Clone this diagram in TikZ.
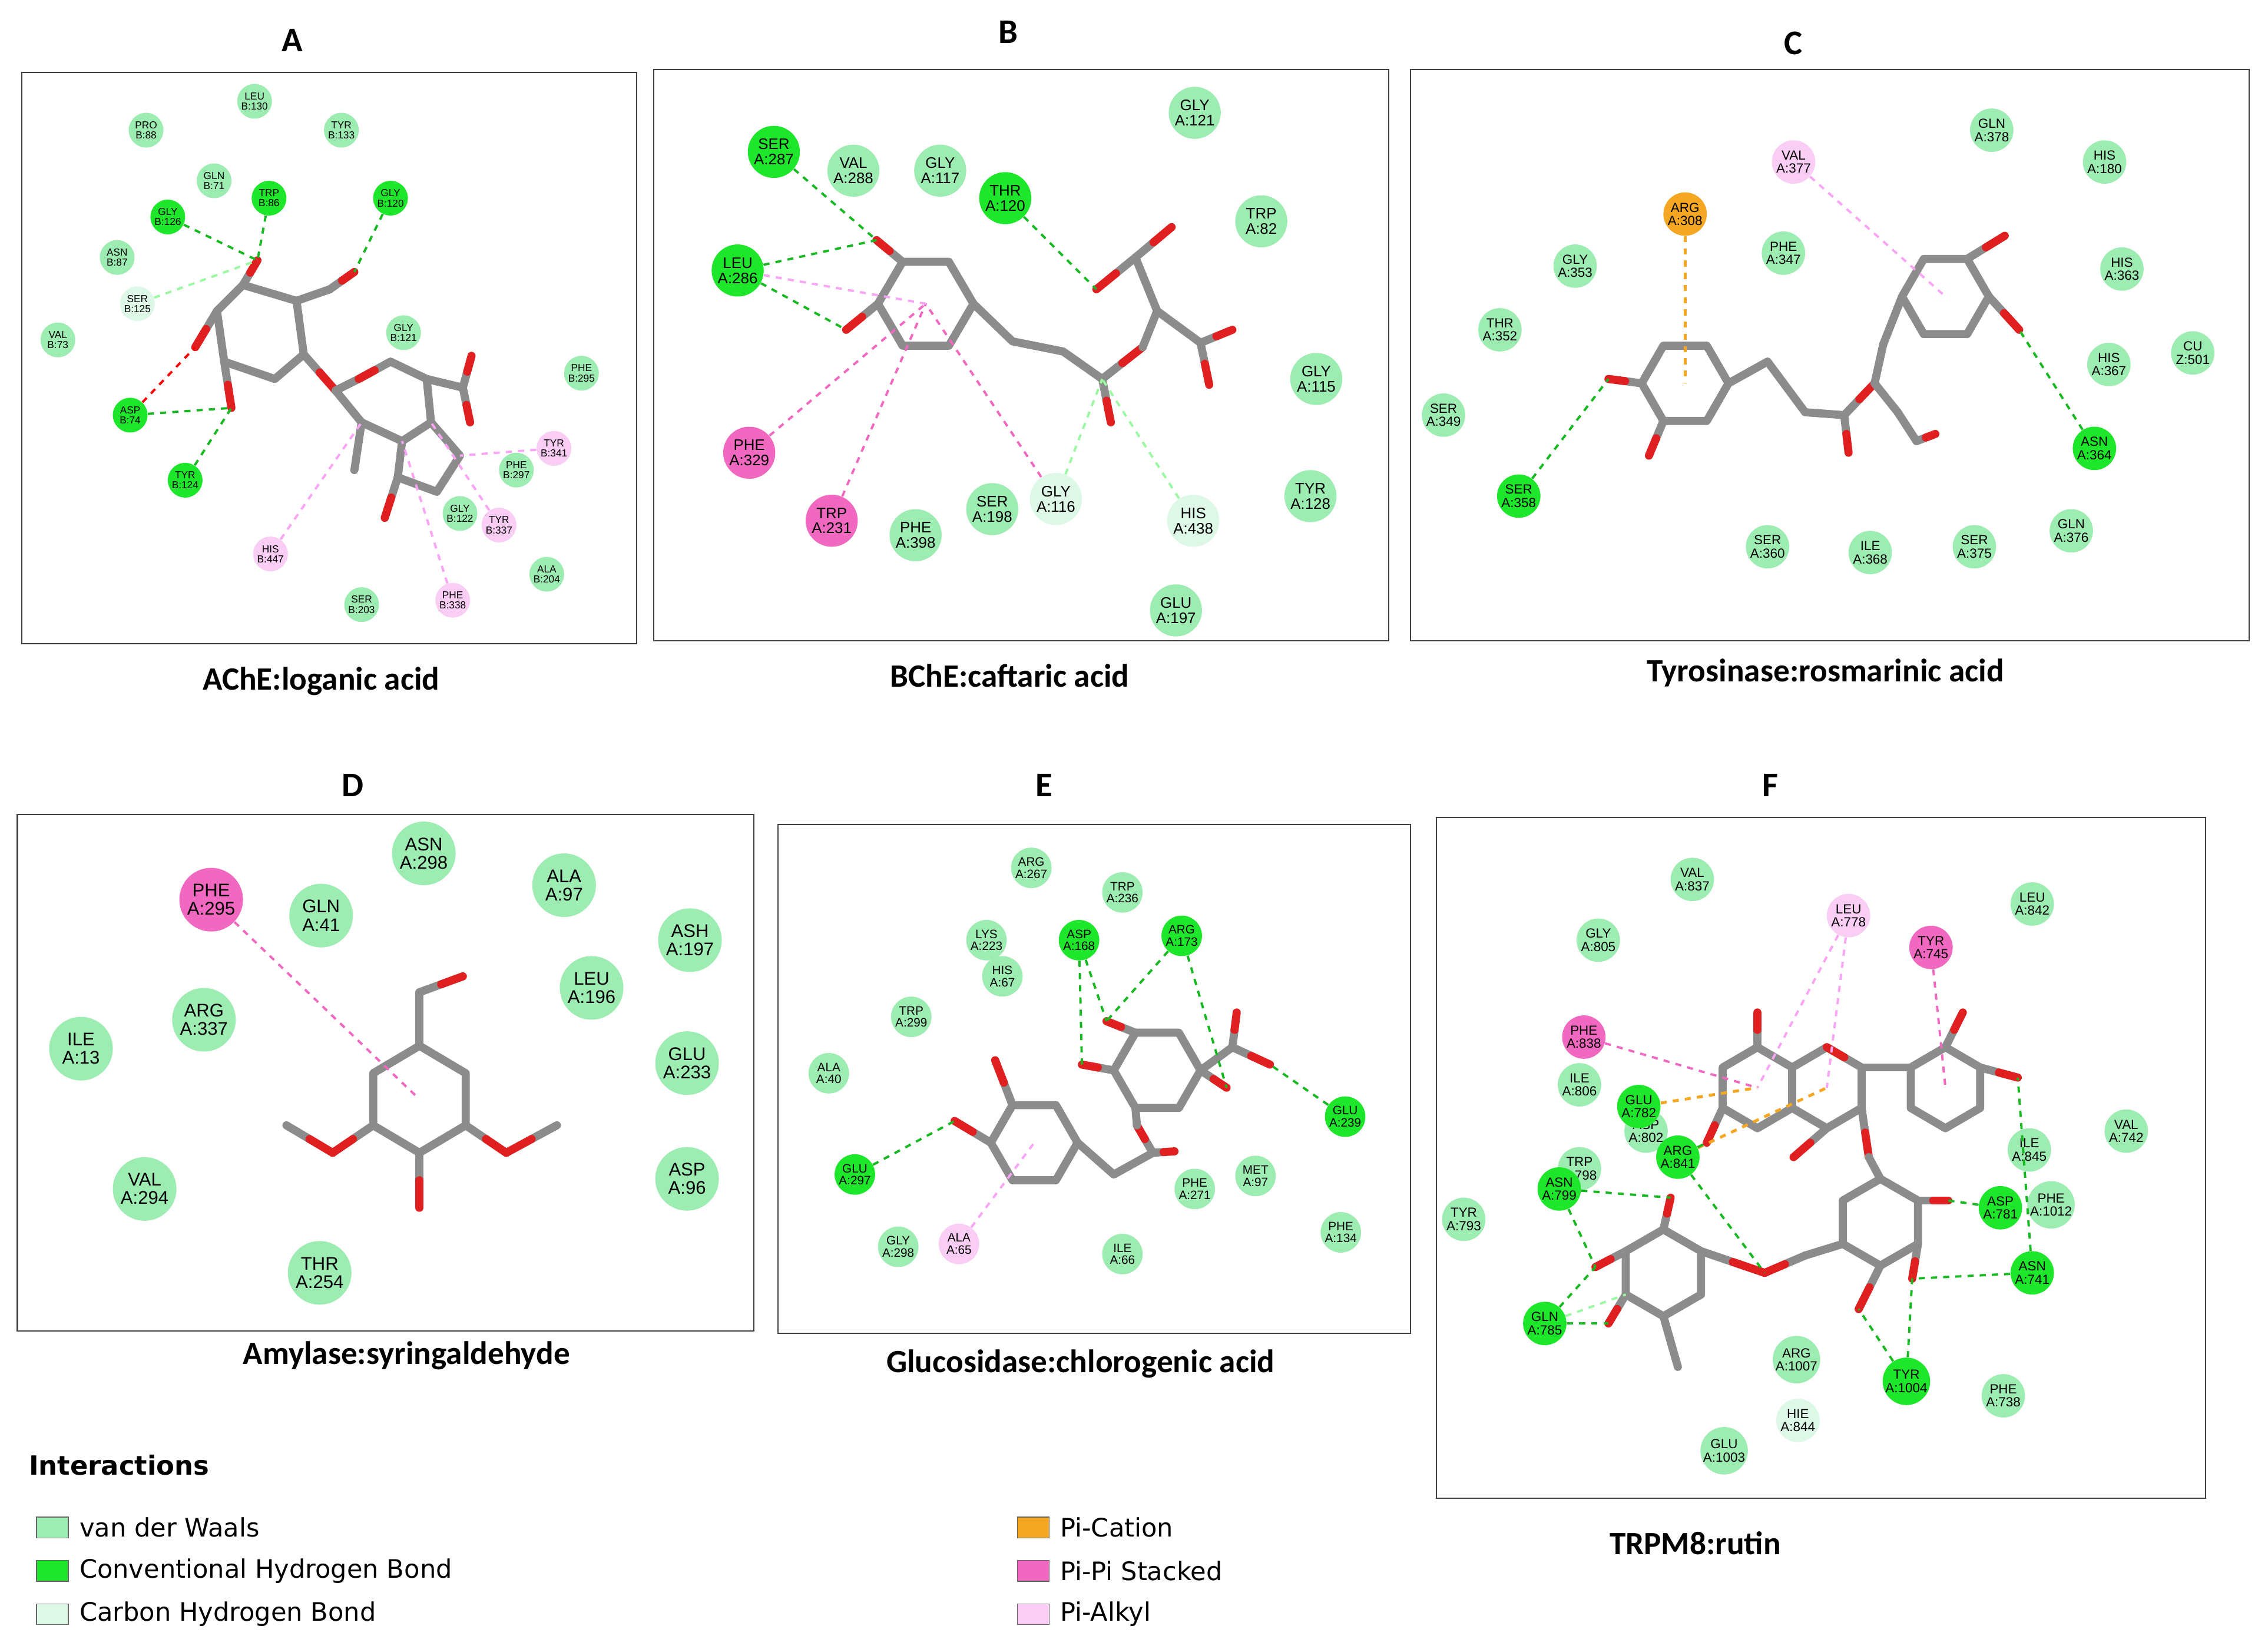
\documentclass[tikz,border=0pt]{standalone}
\usepackage{fontspec}
\setmainfont{Liberation Sans}
\newfontfamily\calfont{Carlito}
\newfontfamily\dvfont{DejaVu Sans}
\usetikzlibrary{calc}
\definecolor{cvdw}{HTML}{9DEDB3}
\definecolor{chb}{HTML}{1EE62A}
\definecolor{cchb}{HTML}{DDF8E6}
\definecolor{cpc}{HTML}{F5A623}
\definecolor{cpp}{HTML}{F068C0}
\definecolor{cpa}{HTML}{F9CDF4}
\definecolor{cbond}{HTML}{8C8C8C}
\definecolor{cox}{HTML}{E02020}
\newcommand{\res}[5]{\node[res,#1] (#2) at (#3) {#4\\#5};}
\newcommand{\ob}[2]{\draw[bond] (#1) -- ($(#1)!0.5!(#2)$); \draw[bond,cox] ($(#1)!0.5!(#2)$) -- (#2);}
\newcommand{\hb}[2]{\draw[bond,white,line width=1.0mm] ($(#1)!0.45!(#2)$) -- (#2);}
\begin{document}
\begin{tikzpicture}[x=0.025cm,y=-0.025cm,
  res/.style={circle,inner sep=0pt,align=center,text=black},
  vdw/.style={fill=cvdw},
  hbd/.style={fill=chb},
  chbd/.style={fill=cchb},
  pc/.style={fill=cpc},
  pp/.style={fill=cpp},
  pa/.style={fill=cpa},
  bond/.style={draw=cbond,line width=1.4mm,line cap=round,line join=round},
  arom/.style={draw=white,dashed,line width=0.3mm},
  iH/.style={draw=chb!80!black,dashed,line width=0.4mm},
  iC/.style={draw=cchb!70!green,dashed,line width=0.4mm},
  iPP/.style={draw=cpp,dashed,line width=0.4mm},
  iPA/.style={draw=cpa!80!magenta,dashed,line width=0.4mm},
  iPC/.style={draw=cpc,dashed,line width=0.5mm},
  iU/.style={draw=red,dashed,line width=0.4mm},
  frame/.style={draw=black!75,line width=0.6pt},
  captxt/.style={font=\calfont\bfseries\fontsize{16}{18}\selectfont},
  ttl/.style={font=\calfont\bfseries\fontsize{17}{19}\selectfont}]
\useasboundingbox (0,0) rectangle (1568,1140);
%%%%%%%%%%%%%%%%%%%% A
\draw[frame] (15,50) rectangle (440,445);
\node[ttl] (tA) at (202,28) {A};
\node[captxt] (cA) at (222,471) {AChE:loganic acid};
\begin{scope}[res/.append style={minimum size=0.6cm,font=\fontsize{5}{5}\selectfont}]
\coordinate (p1) at (168,197); \coordinate (p2) at (205,208); \coordinate (p3) at (210,245);
\coordinate (p4) at (190,262); \coordinate (p5) at (155,250); \coordinate (p6) at (150,215);
\draw[bond] (p1)--(p2)--(p3)--(p4)--(p5)--(p6)--cycle;
\coordinate (aO1) at (178,180); \ob{p1}{aO1} \hb{aO1}{168,172}
\coordinate (ac1) at (228,200); \draw[bond] (p2)--(ac1); \coordinate (aO2) at (245,188); \ob{ac1}{aO2}
\coordinate (aO3) at (135,240); \ob{p6}{aO3}
\coordinate (aO4) at (160,282); \ob{p5}{aO4}
\coordinate (aO5) at (232,270); \ob{p3}{aO5}
\coordinate (q1) at (248,262); \coordinate (q2) at (270,250); \coordinate (q3) at (295,262);
\coordinate (q4) at (298,292); \coordinate (q5) at (278,305); \coordinate (q6) at (250,292);
\draw[bond] (aO5)--(q1)--(q2)--(q3)--(q4)--(q5)--(q6)--cycle;
\draw[bond,cox] (q1)--($(q1)!0.5!(q2)$);
\coordinate (r1) at (318,315); \coordinate (r2) at (302,340); \coordinate (r3) at (275,330);
\draw[bond] (q4)--(r1)--(r2)--(r3)--(q5);
\coordinate (aO6) at (266,358); \ob{r3}{aO6}
\coordinate (am) at (245,325); \draw[bond] (q6)--(am);
\coordinate (acc) at (320,268); \draw[bond] (q3)--(acc);
\coordinate (aO7) at (326,246); \ob{acc}{aO7}
\coordinate (aO8) at (325,292); \ob{acc}{aO8}
\res{vdw}{aPRO88}{101,90}{PRO}{B:88}
\res{vdw}{aLEU130}{176,70}{LEU}{B:130}
\res{vdw}{aTYR133}{236,90}{TYR}{B:133}
\res{vdw}{aGLN71}{148,125}{GLN}{B:71}
\res{hbd}{aTRP86}{186,137}{TRP}{B:86}
\res{hbd}{aGLY120}{270,137}{GLY}{B:120}
\res{hbd}{aGLY126}{116,150}{GLY}{B:126}
\res{vdw}{aASN87}{81,178}{ASN}{B:87}
\res{chbd}{aSER125}{95,210}{SER}{B:125}
\res{vdw}{aVAL73}{40,235}{VAL}{B:73}
\res{vdw}{aGLY121}{279,230}{GLY}{B:121}
\res{vdw}{aPHE295}{402,258}{PHE}{B:295}
\res{hbd}{aASP74}{90,287}{ASP}{B:74}
\res{pa}{aTYR341}{383,310}{TYR}{B:341}
\res{vdw}{aPHE297}{357,325}{PHE}{B:297}
\res{hbd}{aTYR124}{128,332}{TYR}{B:124}
\res{vdw}{aGLY122}{318,355}{GLY}{B:122}
\res{pa}{aTYR337}{345,363}{TYR}{B:337}
\res{pa}{aHIS447}{187,383}{HIS}{B:447}
\res{vdw}{aALA204}{378,397}{ALA}{B:204}
\res{vdw}{aSER203}{250,418}{SER}{B:203}
\res{pa}{aPHE338}{313,415}{PHE}{B:338}
\end{scope}
\draw[iH] (aGLY126)--(aO1); \draw[iH] (aTRP86)--(aO1); \draw[iH] (aGLY120)--(aO2);
\draw[iC] (aSER125)--(aO1);
\draw[iU] (aASP74)--(aO3); \draw[iH] (aASP74)--(aO4); \draw[iH] (aTYR124)--(aO4);
\draw[iPA] (aHIS447)--(q6); \draw[iPA] (aPHE338)--(q5); \draw[iPA] (aTYR337)--(q4); \draw[iPA] (aTYR341)--(r1);
%%%%%%%%%%%%%%%%%%%% B
\draw[frame] (452,48) rectangle (960,443);
\node[ttl] (tB) at (697,22) {B};
\node[captxt] (cB) at (698,467) {BChE:caftaric acid};
\begin{scope}[res/.append style={minimum size=0.9cm,font=\fontsize{7.5}{7.5}\selectfont}]
\coordinate (b1) at (673,210); \coordinate (b2) at (656,181); \coordinate (b3) at (624,181);
\coordinate (b4) at (607,210); \coordinate (b5) at (624,239); \coordinate (b6) at (656,239);
\coordinate (bc) at (640,210);
\draw[bond] (b1)--(b2)--(b3)--(b4)--(b5)--(b6)--cycle; \draw[arom] (bc) circle[radius=20];
\coordinate (bO1) at (606,166); \ob{b3}{bO1} \hb{bO1}{592,180}
\coordinate (bO2) at (585,228); \ob{b4}{bO2} \hb{bO2}{570,222}
\coordinate (bc1) at (700,236); \coordinate (bc2) at (735,243); \coordinate (bc3) at (762,262);
\draw[bond] (b1)--(bc1)--(bc2)--(bc3);
\coordinate (bO3) at (768,292); \ob{bc3}{bO3}
\coordinate (bO4) at (790,240); \ob{bc3}{bO4}
\coordinate (bd1) at (800,215); \draw[bond] (bO4)--(bd1);
\coordinate (bd2) at (785,178); \draw[bond] (bd1)--(bd2);
\coordinate (bO5) at (810,157); \ob{bd2}{bO5}
\coordinate (bO6) at (758,200); \ob{bd2}{bO6} \hb{bO6}{746,196}
\coordinate (bd3) at (830,237); \draw[bond] (bd1)--(bd3);
\coordinate (bO7) at (852,228); \ob{bd3}{bO7}
\coordinate (bO8) at (836,266); \ob{bd3}{bO8}
\res{hbd}{bSER287}{535,105}{SER}{A:287}
\res{vdw}{bVAL288}{590,118}{VAL}{A:288}
\res{vdw}{bGLY117}{650,118}{GLY}{A:117}
\res{hbd}{bTHR120}{695,137}{THR}{A:120}
\res{vdw}{bGLY121}{826,78}{GLY}{A:121}
\res{vdw}{bTRP82}{872,153}{TRP}{A:82}
\res{hbd}{bLEU286}{510,187}{LEU}{A:286}
\res{vdw}{bGLY115}{910,262}{GLY}{A:115}
\res{pp}{bPHE329}{518,313}{PHE}{A:329}
\res{vdw}{bTYR128}{906,343}{TYR}{A:128}
\res{pp}{bTRP231}{575,360}{TRP}{A:231}
\res{vdw}{bPHE398}{633,370}{PHE}{A:398}
\res{vdw}{bSER198}{686,352}{SER}{A:198}
\res{chbd}{bGLY116}{730,345}{GLY}{A:116}
\res{chbd}{bHIS438}{825,360}{HIS}{A:438}
\res{vdw}{bGLU197}{813,422}{GLU}{A:197}
\end{scope}
\draw[iH] (bLEU286)--(bO1); \draw[iH] (bSER287)--(bO1); \draw[iH] (bLEU286)--(bO2);
\draw[iH] (bTHR120)--(bO6);
\draw[iPP] (bPHE329)--(bc); \draw[iPP] (bTRP231)--(bc); \draw[iPP] (bGLY116)--(bc);
\draw[iC] (bHIS438)--(bc3); \draw[iC] (bGLY116)--(bc3);
\draw[iPA] (bLEU286)--(bc);
%%%%%%%%%%%%%%%%%%%% C
\draw[frame] (975,48) rectangle (1555,443);
\node[ttl] (tC) at (1240,30) {C};
\node[captxt] (cC) at (1262,465) {Tyrosinase:rosmarinic acid};
\begin{scope}[res/.append style={minimum size=0.75cm,font=\fontsize{6.5}{6.5}\selectfont}]
\coordinate (e1) at (1195,265); \coordinate (e2) at (1180,239); \coordinate (e3) at (1150,239);
\coordinate (e4) at (1135,265); \coordinate (e5) at (1150,291); \coordinate (e6) at (1180,291);
\coordinate (ec) at (1165,265);
\draw[bond] (e1)--(e2)--(e3)--(e4)--(e5)--(e6)--cycle; \draw[arom] (ec) circle[radius=18];
\coordinate (cO1) at (1112,262); \ob{e4}{cO1} \hb{cO1}{1100,270}
\coordinate (cO2) at (1140,315); \ob{e5}{cO2}
\coordinate (g1) at (1222,250); \coordinate (g2) at (1248,285); \coordinate (g3) at (1275,287);
\draw[bond] (e1)--(g1)--(g2)--(g3);
\coordinate (cO3) at (1278,313); \ob{g3}{cO3}
\coordinate (cO4) at (1296,265); \ob{g3}{cO4}
\coordinate (g5) at (1312,285); \draw[bond] (cO4)--(g5);
\coordinate (g6) at (1325,305); \draw[bond] (g5)--(g6);
\coordinate (cO5) at (1338,300); \ob{g6}{cO5}
\coordinate (g7) at (1302,238); \draw[bond] (cO4)--(g7);
\coordinate (f1) at (1375,205); \coordinate (f2) at (1360,179); \coordinate (f3) at (1330,179);
\coordinate (f4) at (1315,205); \coordinate (f5) at (1330,231); \coordinate (f6) at (1360,231);
\coordinate (fc) at (1345,205);
\draw[bond] (g7)--(f4);
\draw[bond] (f1)--(f2)--(f3)--(f4)--(f5)--(f6)--cycle; \draw[arom] (fc) circle[radius=18];
\coordinate (cO6) at (1386,163); \ob{f2}{cO6}
\coordinate (cO7) at (1396,228); \ob{f1}{cO7} \hb{cO7}{1406,235}
\res{vdw}{cGLN378}{1377,90}{GLN}{A:378}
\res{pa}{cVAL377}{1240,112}{VAL}{A:377}
\res{vdw}{cHIS180}{1455,112}{HIS}{A:180}
\res{pc}{cARG308}{1165,148}{ARG}{A:308}
\res{vdw}{cPHE347}{1233,175}{PHE}{A:347}
\res{vdw}{cGLY353}{1089,184}{GLY}{A:353}
\res{vdw}{cHIS363}{1467,186}{HIS}{A:363}
\res{vdw}{cTHR352}{1037,228}{THR}{A:352}
\res{vdw}{cHIS367}{1458,252}{HIS}{A:367}
\res{vdw}{cCU501}{1516,244}{CU}{Z:501}
\res{vdw}{cSER349}{998,287}{SER}{A:349}
\res{hbd}{cASN364}{1448,310}{ASN}{A:364}
\res{hbd}{cSER358}{1050,343}{SER}{A:358}
\res{vdw}{cSER360}{1222,378}{SER}{A:360}
\res{vdw}{cILE368}{1293,382}{ILE}{A:368}
\res{vdw}{cSER375}{1365,378}{SER}{A:375}
\res{vdw}{cGLN376}{1432,367}{GLN}{A:376}
\end{scope}
\draw[iPC] (cARG308)--(ec); \draw[iH] (cSER358)--(cO1); \draw[iH] (cASN364)--(cO7);
\draw[iPA] (cVAL377)--(fc);
%%%%%%%%%%%%%%%%%%%% D
\draw[frame] (12,563) rectangle (521,920);
\node[ttl] (tD) at (244,543) {D};
\node[captxt] (cD) at (281,937) {Amylase:syringaldehyde};
\begin{scope}[res/.append style={minimum size=1.1cm,font=\fontsize{9}{9}\selectfont}]
\coordinate (d1) at (290,723); \coordinate (d2) at (322,742); \coordinate (d3) at (322,778);
\coordinate (d4) at (290,797); \coordinate (d5) at (258,778); \coordinate (d6) at (258,742);
\coordinate (dc) at (290,760);
\draw[bond] (d1)--(d2)--(d3)--(d4)--(d5)--(d6)--cycle; \draw[arom] (dc) circle[radius=22];
\coordinate (dk) at (290,686); \draw[bond] (d1)--(dk);
\coordinate (dO1) at (320,675); \ob{dk}{dO1}
\coordinate (dO2) at (230,797); \ob{d5}{dO2} \coordinate (dm1) at (198,778); \ob{dm1}{dO2}
\coordinate (dO3) at (350,797); \ob{d3}{dO3} \coordinate (dm2) at (385,778); \ob{dm2}{dO3}
\coordinate (dO4) at (290,835); \ob{d4}{dO4}
\res{pp}{dPHE295}{146,622}{PHE}{A:295}
\res{vdw}{dGLN41}{222,633}{GLN}{A:41}
\res{vdw}{dASN298}{293,590}{ASN}{A:298}
\res{vdw}{dALA97}{390,612}{ALA}{A:97}
\res{vdw}{dASH197}{477,650}{ASH}{A:197}
\res{vdw}{dLEU196}{409,683}{LEU}{A:196}
\res{vdw}{dARG337}{141,705}{ARG}{A:337}
\res{vdw}{dILE13}{56,725}{ILE}{A:13}
\res{vdw}{dGLU233}{475,735}{GLU}{A:233}
\res{vdw}{dVAL294}{100,822}{VAL}{A:294}
\res{vdw}{dASP96}{475,815}{ASP}{A:96}
\res{vdw}{dTHR254}{221,880}{THR}{A:254}
\end{scope}
\draw[iPP] (dPHE295)--(dc);
%%%%%%%%%%%%%%%%%%%% E
\draw[frame] (538,570) rectangle (975,922);
\node[ttl] (tE) at (722,543) {E};
\node[captxt] (cE) at (747,943) {Glucosidase:chlorogenic acid};
\begin{scope}[res/.append style={minimum size=0.7cm,font=\fontsize{6}{6}\selectfont}]
\coordinate (h1) at (745,790); \coordinate (h2) at (730,764); \coordinate (h3) at (700,764);
\coordinate (h4) at (685,790); \coordinate (h5) at (700,816); \coordinate (h6) at (730,816);
\coordinate (hc) at (715,790);
\draw[bond] (h1)--(h2)--(h3)--(h4)--(h5)--(h6)--cycle; \draw[arom] (hc) circle[radius=18];
\coordinate (eO1) at (688,733); \ob{h3}{eO1}
\coordinate (eO2) at (660,775); \ob{h4}{eO2} \hb{eO2}{648,770}
\coordinate (i1) at (770,812); \coordinate (i2) at (797,797);
\draw[bond] (h1)--(i1)--(i2);
\coordinate (eO3) at (812,796); \ob{i2}{eO3}
\coordinate (eO4) at (786,778); \ob{i2}{eO4}
\coordinate (j1) at (830,740); \coordinate (j2) at (815,714); \coordinate (j3) at (785,714);
\coordinate (j4) at (770,740); \coordinate (j5) at (785,766); \coordinate (j6) at (815,766);
\draw[bond] (j1)--(j2)--(j3)--(j4)--(j5)--(j6)--cycle; \draw[bond] (eO4)--(j5);
\coordinate (eO5) at (765,706); \ob{j3}{eO5} \hb{eO5}{755,698}
\coordinate (eO6) at (748,736); \ob{j4}{eO6}
\coordinate (ek) at (852,724); \draw[bond] (j1)--(ek);
\coordinate (eO7) at (855,700); \ob{ek}{eO7}
\coordinate (eO8) at (878,736); \ob{ek}{eO8} \hb{eO8}{888,742}
\coordinate (eO9) at (848,752); \ob{j1}{eO9}
\res{vdw}{eARG267}{713,600}{ARG}{A:267}
\res{vdw}{eTRP236}{776,617}{TRP}{A:236}
\res{hbd}{eASP168}{746,650}{ASP}{A:168}
\res{hbd}{eARG173}{817,647}{ARG}{A:173}
\res{vdw}{eLYS223}{682,650}{LYS}{A:223}
\res{vdw}{eHIS67}{693,675}{HIS}{A:67}
\res{vdw}{eTRP299}{630,703}{TRP}{A:299}
\res{vdw}{eALA40}{573,742}{ALA}{A:40}
\res{hbd}{eGLU239}{930,772}{GLU}{A:239}
\res{hbd}{eGLU297}{591,812}{GLU}{A:297}
\res{vdw}{ePHE271}{826,822}{PHE}{A:271}
\res{vdw}{eMET97}{868,813}{MET}{A:97}
\res{vdw}{ePHE134}{927,852}{PHE}{A:134}
\res{vdw}{eGLY298}{621,862}{GLY}{A:298}
\res{pa}{eALA65}{663,860}{ALA}{A:65}
\res{vdw}{eILE66}{776,867}{ILE}{A:66}
\end{scope}
\draw[iH] (eGLU297)--(eO2); \draw[iH] (eASP168)--(eO5); \draw[iH] (eASP168)--(eO6);
\draw[iH] (eARG173)--(eO5); \draw[iH] (eARG173)--(eO9); \draw[iH] (eGLU239)--(eO8);
\draw[iPA] (eALA65)--(hc);
%%%%%%%%%%%%%%%%%%%% F
\draw[frame] (993,565) rectangle (1525,1036);
\node[ttl] (tF) at (1224,543) {F};
\node[captxt] (cF) at (1172,1067) {TRPM8:rutin};
\begin{scope}[res/.append style={minimum size=0.75cm,font=\fontsize{6.5}{6.5}\selectfont}]
\coordinate (ka1) at (1239,738); \coordinate (ka2) at (1215,724); \coordinate (ka3) at (1191,738);
\coordinate (ka4) at (1191,766); \coordinate (ka5) at (1215,780); \coordinate (ka6) at (1239,766);
\coordinate (kac) at (1215,752);
\draw[bond] (ka1)--(ka2)--(ka3)--(ka4)--(ka5)--(ka6)--cycle; \draw[arom] (kac) circle[radius=16];
\coordinate (kc1) at (1287,738); \coordinate (kc2) at (1263,724); \coordinate (kc5) at (1263,780); \coordinate (kc6) at (1287,766);
\coordinate (kcc) at (1263,752);
\draw[bond] (ka1)--(kc2)--(kc1)--(kc6)--(kc5)--(ka6);
\draw[bond,cox] (kc2)--($(kc2)!0.5!(kc1)$);
\coordinate (kb1) at (1369,738); \coordinate (kb2) at (1345,724); \coordinate (kb3) at (1321,738);
\coordinate (kb4) at (1321,766); \coordinate (kb5) at (1345,780); \coordinate (kb6) at (1369,766);
\coordinate (kbc) at (1345,752);
\draw[bond] (kb1)--(kb2)--(kb3)--(kb4)--(kb5)--(kb6)--cycle; \draw[arom] (kbc) circle[radius=16];
\draw[bond] (kc1)--(kb3);
\coordinate (fO1) at (1215,700); \ob{ka2}{fO1}
\coordinate (fO2) at (1180,790); \ob{ka4}{fO2} \hb{fO2}{1168,798}
\coordinate (fO3) at (1240,800); \ob{kc5}{fO3}
\coordinate (fO4) at (1292,800); \ob{kc6}{fO4}
\coordinate (fO5) at (1357,700); \ob{kb2}{fO5}
\coordinate (fO6) at (1395,745); \ob{kb1}{fO6} \hb{fO6}{1408,752}
\coordinate (m1) at (1326,830); \coordinate (m2) at (1300,815); \coordinate (m3) at (1274,830);
\coordinate (m4) at (1274,860); \coordinate (m5) at (1300,875); \coordinate (m6) at (1326,860);
\draw[bond] (m1)--(m2)--(m3)--(m4)--(m5)--(m6)--cycle; \draw[bond] (fO4)--(m2);
\coordinate (fO7) at (1347,830); \ob{m1}{fO7} \hb{fO7}{1358,825}
\coordinate (fO8) at (1322,884); \ob{m6}{fO8}
\coordinate (fO9) at (1285,905); \ob{m5}{fO9} \hb{fO9}{1280,915}
\coordinate (mk) at (1248,868); \draw[bond] (m4)--(mk);
\coordinate (fO10) at (1220,880); \ob{mk}{fO10}
\coordinate (n1) at (1176,865); \coordinate (n2) at (1150,850); \coordinate (n3) at (1124,865);
\coordinate (n4) at (1124,895); \coordinate (n5) at (1150,910); \coordinate (n6) at (1176,895);
\draw[bond] (n1)--(n2)--(n3)--(n4)--(n5)--(n6)--cycle; \ob{n1}{fO10}
\coordinate (fO11) at (1155,828); \ob{n2}{fO11}
\coordinate (fO12) at (1103,876); \ob{n3}{fO12} \hb{fO12}{1092,882}
\coordinate (fO13) at (1112,915); \ob{n4}{fO13}
\coordinate (nm) at (1160,945); \draw[bond] (n5)--(nm);
\res{vdw}{fVAL837}{1170,608}{VAL}{A:837}
\res{pa}{fLEU778}{1278,633}{LEU}{A:778}
\res{vdw}{fLEU842}{1405,625}{LEU}{A:842}
\res{vdw}{fGLY805}{1105,650}{GLY}{A:805}
\res{pp}{fTYR745}{1335,655}{TYR}{A:745}
\res{pp}{fPHE838}{1095,717}{PHE}{A:838}
\res{vdw}{fILE806}{1092,750}{ILE}{A:806}
\res{vdw}{fASP802}{1138,782}{ASP}{A:802}
\res{hbd}{fGLU782}{1133,765}{GLU}{A:782}
\res{hbd}{fARG841}{1160,800}{ARG}{A:841}
\res{vdw}{fVAL742}{1470,782}{VAL}{A:742}
\res{vdw}{fILE845}{1403,795}{ILE}{A:845}
\res{vdw}{fTRP798}{1092,808}{TRP}{A:798}
\res{hbd}{fASN799}{1078,822}{ASN}{A:799}
\res{hbd}{fASP781}{1383,835}{ASP}{A:781}
\res{vdw}{fPHE1012}{1418,833}{PHE}{A:1012}
\res{vdw}{fTYR793}{1012,843}{TYR}{A:793}
\res{hbd}{fASN741}{1405,880}{ASN}{A:741}
\res{hbd}{fGLN785}{1068,915}{GLN}{A:785}
\res{vdw}{fARG1007}{1242,940}{ARG}{A:1007}
\res{hbd}{fTYR1004}{1318,955}{TYR}{A:1004}
\res{vdw}{fPHE738}{1385,965}{PHE}{A:738}
\res{chbd}{fHIE844}{1243,982}{HIE}{A:844}
\res{vdw}{fGLU1003}{1192,1003}{GLU}{A:1003}
\end{scope}
\draw[iPP] (fPHE838)--(kac); \draw[iPA] (fLEU778)--(kac); \draw[iPA] (fLEU778)--(kcc);
\draw[iPP] (fTYR745)--(kbc);
\draw[iPC] (fGLU782)--(kac); \draw[iPC] (fARG841)--(kcc);
\draw[iH] (fARG841)--(fO2); \draw[iH] (fARG841)--(fO10);
\draw[iH] (fASN799)--(fO11); \draw[iH] (fASN799)--(fO12); \draw[iH] (fGLN785)--(fO12); \draw[iH] (fGLN785)--(fO13);
\draw[iC] (fGLN785)--(n4);
\draw[iH] (fASP781)--(fO7); \draw[iH] (fASN741)--(fO8); \draw[iH] (fASN741)--(fO6);
\draw[iH] (fTYR1004)--(fO9); \draw[iH] (fTYR1004)--(fO8);
%%%%%%%%%%%%%%%%%%%% legend
\node[font=\dvfont\bfseries\fontsize{13}{15}\selectfont,anchor=west] (lt) at (15,1013) {Interactions};
\begin{scope}[every node/.style={font=\dvfont\fontsize{12.5}{14}\selectfont,anchor=west}]
\node[draw=black!60,fill=cvdw,minimum width=0.55cm,minimum height=0.36cm,inner sep=0] (l1) at (25,1056) {};
\node (l1t) at (50,1056) {van der Waals};
\node[draw=black!60,fill=chb,minimum width=0.55cm,minimum height=0.36cm,inner sep=0] (l2) at (25,1086) {};
\node (l2t) at (50,1086) {Conventional Hydrogen Bond};
\node[draw=black!60,fill=cchb,minimum width=0.55cm,minimum height=0.36cm,inner sep=0] (l3) at (25,1116) {};
\node (l3t) at (50,1116) {Carbon Hydrogen Bond};
\node[draw=black!60,fill=cpc,minimum width=0.55cm,minimum height=0.36cm,inner sep=0] (l4) at (703,1056) {};
\node (l4t) at (728,1056) {Pi-Cation};
\node[draw=black!60,fill=cpp,minimum width=0.55cm,minimum height=0.36cm,inner sep=0] (l5) at (703,1086) {};
\node (l5t) at (728,1086) {Pi-Pi Stacked};
\node[draw=black!60,fill=cpa,minimum width=0.55cm,minimum height=0.36cm,inner sep=0] (l6) at (703,1116) {};
\node (l6t) at (728,1116) {Pi-Alkyl};
\end{scope}
\end{tikzpicture}
\end{document}
